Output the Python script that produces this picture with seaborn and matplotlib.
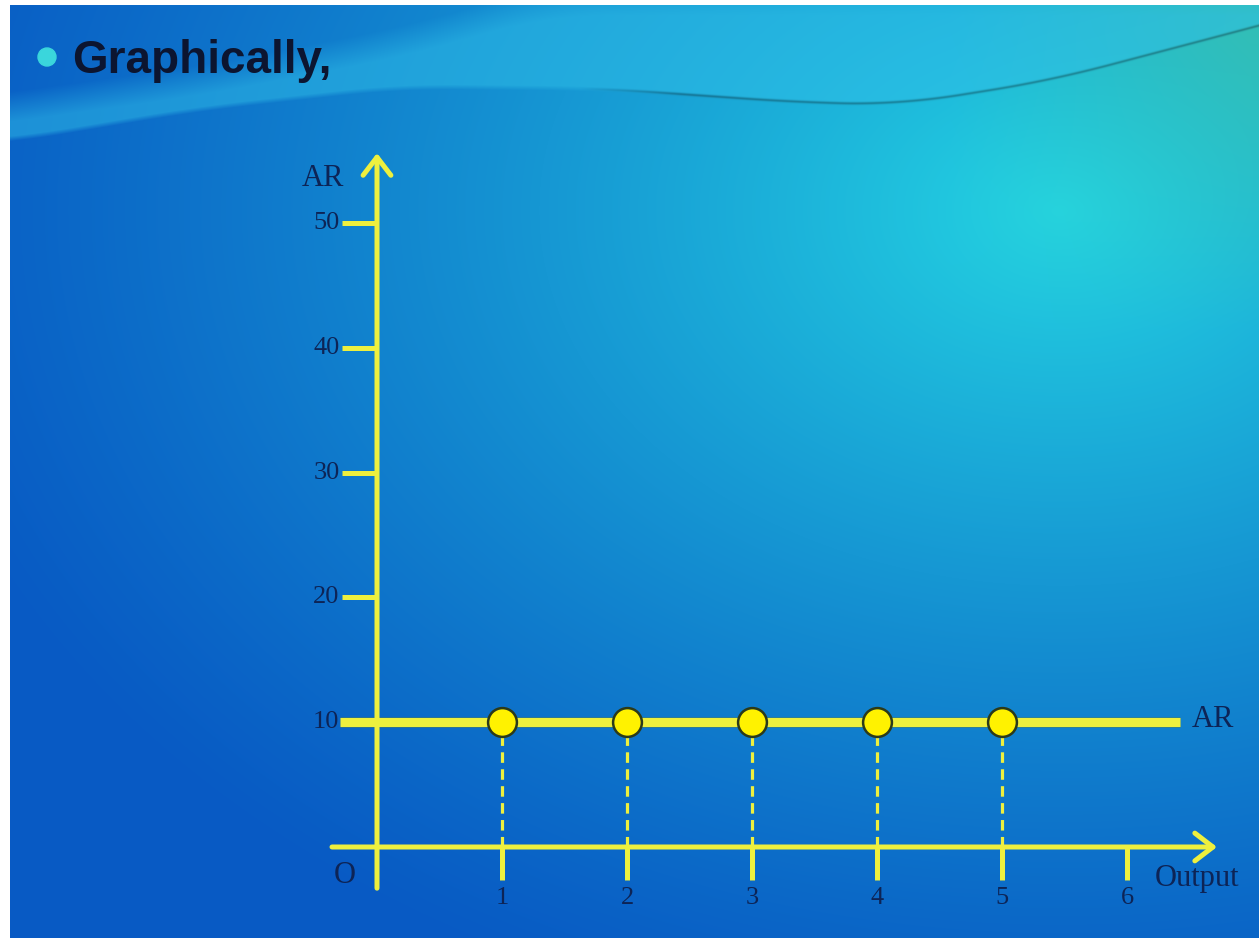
import numpy as np
import matplotlib
matplotlib.use("Agg")
import matplotlib.pyplot as plt
import matplotlib.patheffects as pe
from matplotlib.patches import Circle
import seaborn as sns

# ---- chart data ----
output_qty = [1, 2, 3, 4, 5]
avg_revenue = [10, 10, 10, 10, 10]
y_tick_values = [10, 20, 30, 40, 50]
y_tick_labels = ["10", "20", "30", "40", "50"]
x_tick_values = [1, 2, 3, 4, 5, 6]
x_tick_labels = ["1", "2", "3", "4", "5", "6"]
title_text = "Graphically,"
y_axis_label = "AR"
x_axis_label = "Output"
curve_label = "AR"
origin_label = "O"

W, H = 1259, 938
sns.set_style("white")
plt.rcParams["font.family"] = ["Liberation Serif", "DejaVu Serif"]

fig = plt.figure(figsize=(W / 100, H / 100), dpi=100, facecolor="white")

# ---- slide background: blue-to-cyan gradient with a wave band on top ----
yy, xx = np.mgrid[0:H, 0:W].astype(float)
dark = np.array([8, 90, 196]) / 255
cyan = np.array([36, 212, 226]) / 255
green = np.array([62, 200, 165]) / 255
dist = np.sqrt(((xx - 1060) / 1.25) ** 2 + ((yy - 210) / 0.9) ** 2)
t = np.clip(1 - dist / 950, 0, 1) ** 1.2
img = dark + (cyan - dark) * t[..., None]
g = np.clip((xx - 950) / 300, 0, 1) * np.clip((330 - yy) / 300, 0, 1)
img = img + (green - img) * (0.65 * g)[..., None]


def smooth_curve(kx, ky, win=121):
    c = np.interp(np.arange(-win, W + win), kx, ky)
    c = np.convolve(c, np.ones(win) / win, mode="same")
    return c[win:win + W][None, :]


f1 = smooth_curve([-200, 10, 200, 400, 600, 800, 900, 1050, 1259, 1500],
                  [150, 140, 108, 86, 88, 102, 104, 80, 25, -40])
f2 = smooth_curve([-200, 0, 200, 400, 550, 1500],
                  [125, 108, 80, 42, 0, 0])


def ramp(v, w):
    return np.clip(v / w + 0.5, 0, 1)


band = ramp(f1 - yy, 5) * ramp(yy - f2, 30)
light = np.array([48, 192, 232]) / 255
img = img + (light - img) * (0.5 * band)[..., None]
edge = np.exp(-((yy - f1) / 1.4) ** 2) * np.clip((xx - 580) / 100, 0, 1)
img = img * (1 - 0.28 * edge)[..., None]
img = np.clip(img, 0, 1)
img[:5, :, :] = 1
img[:, :10, :] = 1

bg = fig.add_axes([0, 0, 1, 1])
bg.imshow(img, extent=(0, W, H, 0), aspect="auto", interpolation="bilinear")
bg.add_patch(Circle((47, 57), 9, color="#3ad6dc", zorder=3))
bg.set_xlim(0, W)
bg.set_ylim(H, 0)
bg.axis("off")

fig.text(72 / W, 1 - 73 / H, title_text, family="Liberation Sans",
         fontweight="bold", fontsize=33, color="#0c1530", va="baseline")

# ---- chart axes (data coordinates) ----
X0, SX = 377, 125.0
Y0, SY = 847, 12.48
ax = fig.add_axes([0, 0, 1, 1])
ax.set_facecolor("none")
ax.set_xlim(-X0 / SX, (W - X0) / SX)
ax.set_ylim((Y0 - H) / SY, Y0 / SY)
ax.axis("off")

yellow = "#eef03e"
navy = "#0d2456"
arrow_kw = dict(arrowstyle="->,head_length=0.65,head_width=0.5", lw=3.6,
                color=yellow, mutation_scale=20, shrinkA=0, shrinkB=0)

# axes with arrow heads
ax.annotate("", xy=(0, 55.6), xytext=(0, -3.3), arrowprops=arrow_kw)
ax.annotate("", xy=(6.72, 0), xytext=(-0.36, 0), arrowprops=arrow_kw)

# tick marks
ax.hlines(y_tick_values, -0.28, 0, lw=3.6, color=yellow)
ax.vlines(x_tick_values, -2.65, 0, lw=3.6, color=yellow)

# dashed drops from each point
ax.vlines(output_qty, 0, avg_revenue, lw=2.3, color=yellow,
          linestyles=[(0, (3.3, 2.0))])

# the AR line
ax.hlines(avg_revenue[0], -0.3, 6.42, lw=6.5, color=yellow,
          path_effects=[pe.Stroke(linewidth=7.6, foreground="#5f7f40", alpha=0.5), pe.Normal()])

sns.scatterplot(x=output_qty, y=avg_revenue, s=430, color="#fff200",
                edgecolor="#2b3a1a", linewidth=1.8, zorder=5, ax=ax, legend=False)

# labels
for v, lbl in zip(y_tick_values, y_tick_labels):
    ax.text(-0.30, v, lbl, ha="right", va="center", fontsize=19, color=navy)
for v, lbl in zip(x_tick_values, x_tick_labels):
    ax.text(v, -4.1, lbl, ha="center", va="center", fontsize=19, color=navy)
ax.text(-0.43, 53.6, y_axis_label, ha="center", va="center", fontsize=22, color=navy)
ax.text(-0.26, -2.3, origin_label, ha="center", va="center", fontsize=22, color=navy)
ax.text(6.22, -2.5, x_axis_label, ha="left", va="center", fontsize=22, color=navy)
ax.text(6.52, 10.2, curve_label, ha="left", va="center", fontsize=22, color=navy)

fig.savefig("out.png", dpi=100, facecolor="white")
